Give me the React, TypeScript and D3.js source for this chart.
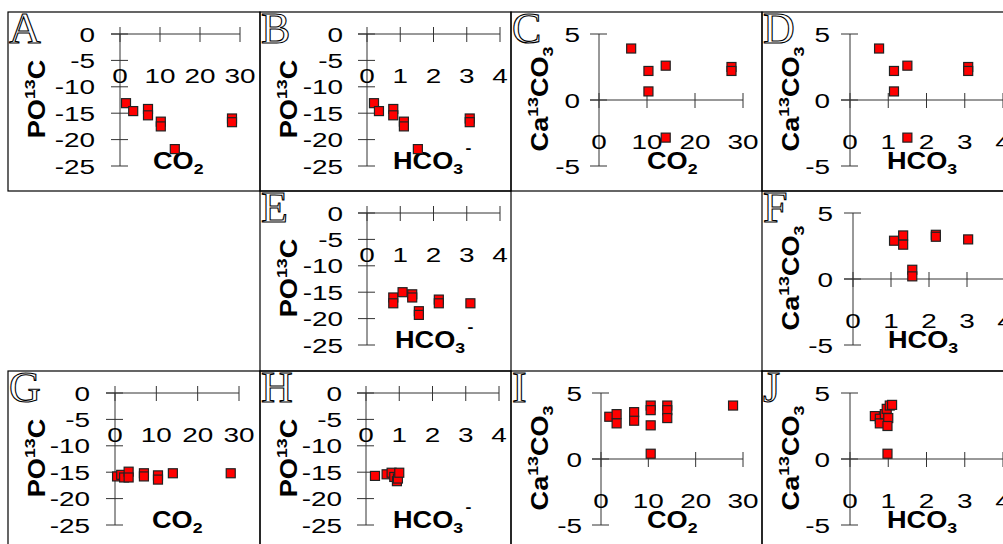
import React from 'react';
import * as d3 from 'd3';

// tick values
const poTicks = [0, -5, -10, -15, -20, -25];
const caTicks = [5, 0, -5];
const co2Ticks = [0, 10, 20, 30];
const hco3Ticks = [0, 1, 2, 3, 4];

// panel data
const aCO2 = [1.5, 3.3, 7, 7, 10.2, 10.2, 13.7, 28, 28];
const aPO13C = [-13.1, -14.6, -14.2, -15.4, -16.6, -17.5, -21.8, -16, -16.7];
const bHCO3 = [0.21, 0.36, 0.79, 0.79, 1.11, 1.11, 1.53, 3.09, 3.09];
const bPO13C = [-13.1, -14.6, -14.2, -15.4, -16.6, -17.5, -21.8, -16, -16.7];
const cCO2 = [6.7, 10.3, 10.3, 13.9, 13.9, 27.6, 27.6];
const cCa13CO3 = [3.9, 2.2, 0.65, 2.6, -2.85, 2.5, 2.2];
const dHCO3 = [0.76, 1.15, 1.15, 1.5, 1.5, 3.09, 3.09];
const dCa13CO3 = [3.9, 2.2, 0.65, 2.6, -2.85, 2.5, 2.2];
const eHCO3 = [0.79, 0.79, 1.07, 1.36, 1.36, 1.56, 1.56, 2.16, 2.16, 3.11];
const ePO13C = [-16.0, -17.1, -15.0, -15.4, -16.0, -18.6, -19.3, -16.4, -17.1, -17.1];
const fHCO3 = [1.08, 1.32, 1.32, 1.56, 1.56, 2.18, 2.18, 3.03];
const fCa13CO3 = [2.9, 3.3, 2.6, 0.7, 0.2, 3.35, 3.2, 3.0];
const gCO2 = [0.5, 1.5, 2.2, 3.3, 3.3, 7, 7, 10.4, 10.4, 14, 28];
const gPO13C = [-15.8, -15.5, -16.0, -14.9, -16.0, -15.2, -15.8, -15.6, -16.4, -15.2, -15.2];
const hHCO3 = [0.27, 0.62, 0.77, 0.85, 0.93, 0.96, 1.0];
const hPO13C = [-15.7, -15.4, -15.1, -15.9, -16.7, -16.2, -15.1];
const iCO2 = [1.75, 3.3, 3.3, 7, 7, 10.5, 10.5, 10.5, 10.5, 14, 14, 14, 27.9];
const iCa13CO3 = [3.2, 3.4, 2.7, 3.55, 2.9, 4.05, 3.7, 2.55, 0.4, 4.05, 3.7, 3.1, 4.05];
const jHCO3 = [0.65, 0.78, 0.78, 0.91, 0.96, 1.0, 0.98, 1.04, 1.1, 0.98];
const jCa13CO3 = [3.25, 3.05, 2.7, 3.4, 3.8, 3.1, 2.5, 4.05, 4.1, 0.4];

type Panel = {
  id: string;
  left: number;
  top: number;
  w: number;
  h: number;
  yKind: 'po' | 'ca';
  xKind: 'co2' | 'hco3';
  x0: number; // pixel of x=0
  x1: number; // pixel of x max
  labelGap: number;
  titleX: number;
  minus: boolean;
  xs: number[];
  ys: number[];
};

const panels: Panel[] = [
  { id: 'A', left: 8, top: 12, w: 252, h: 179, yKind: 'po', xKind: 'co2', x0: 120, x1: 240, labelGap: 25, titleX: 153, minus: false, xs: aCO2, ys: aPO13C },
  { id: 'B', left: 260, top: 12, w: 251, h: 179, yKind: 'po', xKind: 'hco3', x0: 367, x1: 500, labelGap: 24, titleX: 393, minus: true, xs: bHCO3, ys: bPO13C },
  { id: 'C', left: 511, top: 12, w: 251, h: 179, yKind: 'ca', xKind: 'co2', x0: 599, x1: 743, labelGap: 19, titleX: 647, minus: false, xs: cCO2, ys: cCa13CO3 },
  { id: 'D', left: 762, top: 12, w: 251, h: 179, yKind: 'ca', xKind: 'hco3', x0: 850, x1: 1003, labelGap: 20, titleX: 887, minus: false, xs: dHCO3, ys: dCa13CO3 },
  { id: 'E', left: 260, top: 191, w: 251, h: 180, yKind: 'po', xKind: 'hco3', x0: 367, x1: 500, labelGap: 24, titleX: 395, minus: true, xs: eHCO3, ys: ePO13C },
  { id: 'F', left: 762, top: 191, w: 251, h: 180, yKind: 'ca', xKind: 'hco3', x0: 853, x1: 1005, labelGap: 20, titleX: 888, minus: false, xs: fHCO3, ys: fCa13CO3 },
  { id: 'G', left: 8, top: 371, w: 252, h: 180, yKind: 'po', xKind: 'co2', x0: 115, x1: 239, labelGap: 25, titleX: 152, minus: false, xs: gCO2, ys: gPO13C },
  { id: 'H', left: 260, top: 371, w: 251, h: 180, yKind: 'po', xKind: 'hco3', x0: 366, x1: 499, labelGap: 24, titleX: 393, minus: true, xs: hHCO3, ys: hPO13C },
  { id: 'I', left: 511, top: 371, w: 251, h: 180, yKind: 'ca', xKind: 'co2', x0: 601, x1: 743, labelGap: 19, titleX: 647, minus: false, xs: iCO2, ys: iCa13CO3 },
  { id: 'J', left: 762, top: 371, w: 251, h: 180, yKind: 'ca', xKind: 'hco3', x0: 850, x1: 1003, labelGap: 20, titleX: 887, minus: false, xs: jHCO3, ys: jCa13CO3 },
];

const font = "'Liberation Sans', Arial, sans-serif";
const axisColor = '#333';
const tickStretch = 1.33;
const titleStretch = 1.18;

function ScatterPanel({ p }: { p: Panel }) {
  const yTicks = p.yKind === 'po' ? poTicks : caTicks;
  const xTicks = p.xKind === 'co2' ? co2Ticks : hco3Ticks;
  const yScale = d3.scaleLinear()
    .domain([d3.min(yTicks) as number, d3.max(yTicks) as number])
    .range([p.top + 154, p.top + 22]);
  const xScale = d3.scaleLinear()
    .domain([0, d3.max(xTicks) as number])
    .range([p.x0, p.x1]);
  const axisY = yScale(0);
  const titleCx = p.left + 37;
  const titleCy = p.top + 87;

  return (
    <g>
      <rect x={p.left} y={p.top} width={p.w} height={p.h} fill="none" stroke="#000" strokeWidth={1.2} />
      <text x={p.left + 1} y={p.top + 31} fontFamily="'Liberation Serif', 'DejaVu Serif', serif"
        fontSize={44} fill="#fff" stroke="#000" strokeWidth={1.1}>{p.id}</text>

      {/* y axis */}
      <line x1={p.x0} x2={p.x0} y1={yScale.range()[0]} y2={yScale.range()[1]} stroke={axisColor} />
      {yTicks.map(t => (
        <g key={'y' + t}>
          <line x1={p.x0 - 9} x2={p.x0 + 8} y1={yScale(t)} y2={yScale(t)} stroke={axisColor} />
          <text transform={`translate(${p.x0 - p.labelGap},${yScale(t) + 7.5}) scale(${tickStretch},1)`}
            textAnchor="end" fontFamily={font} fontSize={21}>{t}</text>
        </g>
      ))}

      {/* x axis */}
      <line x1={p.x0 - 9} x2={p.x1} y1={axisY} y2={axisY} stroke={axisColor} />
      {xTicks.map(t => (
        <g key={'x' + t}>
          <line x1={xScale(t)} x2={xScale(t)} y1={axisY - 7} y2={axisY + 8} stroke={axisColor} />
          <text transform={`translate(${xScale(t)},${axisY + 49}) scale(${tickStretch},1)`}
            textAnchor="middle" fontFamily={font} fontSize={21}>{t}</text>
        </g>
      ))}

      {/* y title */}
      <text transform={`translate(${titleCx},${titleCy}) rotate(-90) scale(${titleStretch},1)`} textAnchor="middle"
        fontFamily={font} fontWeight="bold" fontSize={23}>
        {p.yKind === 'po' ? (
          <>PO<tspan fontSize={15} dy={-10}>13</tspan><tspan dy={10}>C</tspan></>
        ) : (
          <>Ca<tspan fontSize={15} dy={-10}>13</tspan><tspan dy={10}>CO</tspan><tspan fontSize={15} dy={5}>3</tspan></>
        )}
      </text>

      {/* x title */}
      <text transform={`translate(${p.titleX},${p.top + 157}) scale(${titleStretch},1)`}
        fontFamily={font} fontWeight="bold" fontSize={23}>
        {p.xKind === 'co2' ? (
          <>CO<tspan fontSize={15} dy={5}>2</tspan></>
        ) : (
          <>HCO<tspan fontSize={15} dy={5}>3</tspan>{p.minus ? <tspan fontSize={15} dx={2} dy={-21}>-</tspan> : null}</>
        )}
      </text>

      {/* points */}
      {p.xs.map((xv, i) => (
        <rect key={i} x={xScale(xv) - 4.5} y={yScale(p.ys[i]) - 4.5} width={9} height={9}
          fill="#ff0000" stroke="#222" strokeWidth={1.2} />
      ))}
    </g>
  );
}

export default function App() {
  return (
    <svg width={1003} height={544} style={{ position: 'absolute', left: 0, top: 0, background: '#fff' }}>
      {panels.map(p => <ScatterPanel key={p.id} p={p} />)}
    </svg>
  );
}
